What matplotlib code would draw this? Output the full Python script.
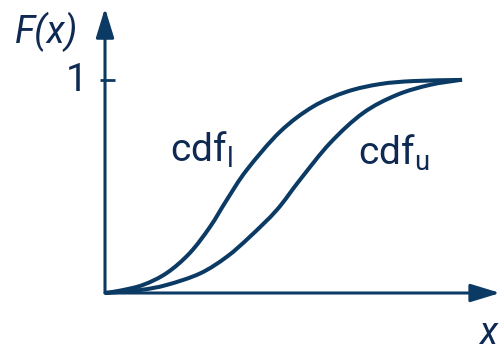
import matplotlib.pyplot as plt
from matplotlib.path import Path
from matplotlib.patches import PathPatch

plt.rcParams['font.family'] = ['Roboto', 'DejaVu Sans']
plt.rcParams['mathtext.fontset'] = 'custom'
plt.rcParams['mathtext.rm'] = 'Roboto'
plt.rcParams['mathtext.it'] = 'Roboto:italic'

line_color = '#0b3a64'
text_color = '#0f2a52'

# lower bound cdf
x_lower = [0.0, 0.042, 0.107, 0.174, 0.239, 0.296, 0.343, 0.399, 0.493,
           0.586, 0.681, 0.775, 0.868, 0.991, 1.0]
y_lower = [0.0, 0.011, 0.038, 0.094, 0.188, 0.311, 0.437, 0.577, 0.757,
           0.875, 0.945, 0.981, 0.995, 1.0, 1.0]

# upper bound cdf
x_upper = [0.0, 0.099, 0.174, 0.268, 0.343, 0.408, 0.484, 0.549, 0.634,
           0.727, 0.822, 0.915, 1.0]
y_upper = [0.0, 0.014, 0.038, 0.092, 0.170, 0.264, 0.390, 0.531, 0.704,
           0.845, 0.930, 0.977, 1.0]


def smooth_path(xs, ys):
    # Catmull-Rom through the points, written as cubic Bezier segments
    pts = list(zip(xs, ys))
    verts = [pts[0]]
    codes = [Path.MOVETO]
    for i in range(len(pts) - 1):
        p0 = pts[max(i - 1, 0)]
        p1 = pts[i]
        p2 = pts[i + 1]
        p3 = pts[min(i + 2, len(pts) - 1)]
        c1 = (p1[0] + (p2[0] - p0[0]) / 6, p1[1] + (p2[1] - p0[1]) / 6)
        c2 = (p2[0] - (p3[0] - p1[0]) / 6, p2[1] - (p3[1] - p1[1]) / 6)
        verts += [c1, c2, p2]
        codes += [Path.CURVE4] * 3
    return Path(verts, codes)


fig = plt.figure(figsize=(5.03, 3.5), dpi=100)
ax = fig.add_axes([0, 0, 1, 1])
ax.set_xlim(-0.2958, 1.1211)
ax.set_ylim(-0.2676, 1.3756)
ax.axis('off')

# axes with arrow heads
arrow = dict(arrowstyle='-|>,head_length=1.8,head_width=0.55', mutation_scale=10,
             color=line_color, lw=2.2, shrinkA=0, shrinkB=0)
ax.annotate('', xy=(0, 1.338), xytext=(0, 0), arrowprops=arrow)
ax.annotate('', xy=(1.113, 0), xytext=(0, 0), arrowprops=arrow)
ax.plot([-0.014, 0.028], [1, 1], color=line_color, lw=2.0, solid_capstyle='butt')

for xs, ys in [(x_lower, y_lower), (x_upper, y_upper)]:
    ax.add_patch(PathPatch(smooth_path(xs, ys), facecolor='none',
                           edgecolor=line_color, lw=2.9, capstyle='butt'))

ax.text(-0.166, 1.225, 'F(x)', style='italic', fontsize=27, color=text_color,
        ha='center', va='center')
ax.text(-0.048, 1.0, '1', fontsize=28, color=text_color, ha='right', va='center')
ax.text(0.183, 0.615, r'$\mathrm{cdf}_\mathrm{l}$', fontsize=28, color=text_color,
        ha='left', va='baseline')
ax.text(0.713, 0.601, r'$\mathrm{cdf}_\mathrm{u}$', fontsize=28, color=text_color,
        ha='left', va='baseline')
ax.text(1.079, -0.188, 'x', style='italic', fontsize=27, color=text_color,
        ha='center', va='center')

fig.savefig('out.png', dpi=100)
